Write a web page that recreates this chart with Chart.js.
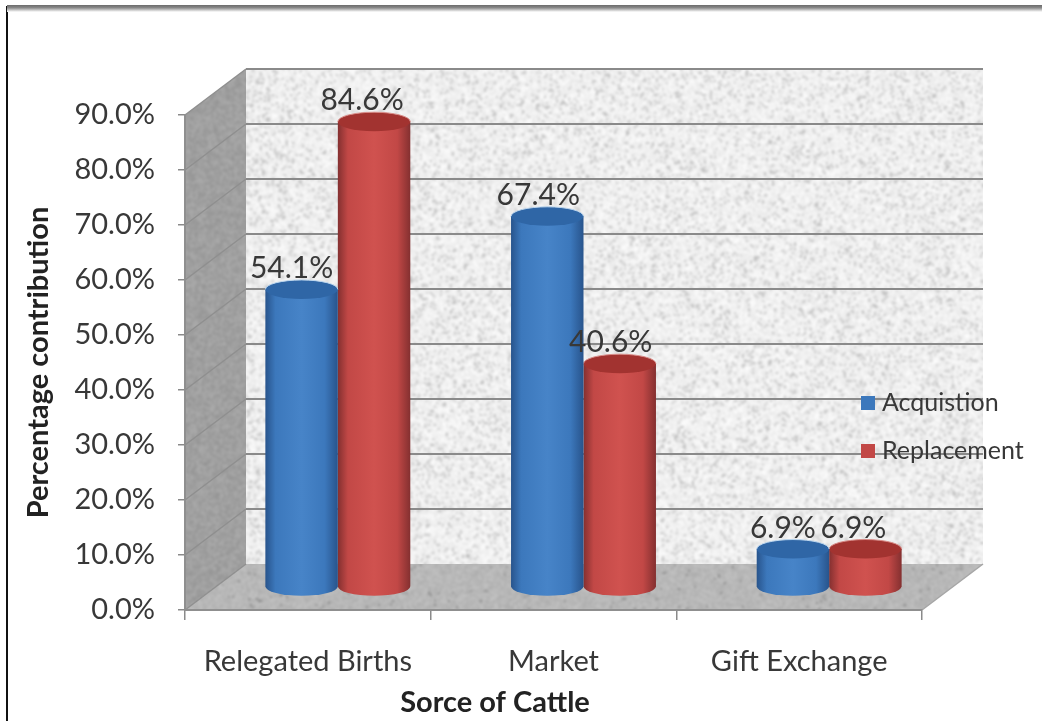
<!DOCTYPE html>
<html><head><meta charset="utf-8">
<style>html,body{margin:0;padding:0;background:#fff;overflow:hidden}canvas{display:block}</style>
<script src="https://cdn.jsdelivr.net/npm/chart.js@4"></script>
</head><body><canvas id="c" width="1042" height="721"></canvas>
<script>
const categories = ["Relegated Births", "Market", "Gift Exchange"];
const acquistion = [54.1, 67.4, 6.9];
const replacement = [84.6, 40.6, 6.9];
const seriesNames = ["Acquistion", "Replacement"];
const yTicks = [0, 10, 20, 30, 40, 50, 60, 70, 80, 90];
const xTitle = "Sorce of Cattle";
const yTitle = "Percentage contribution";

const FONT = "Lato";
const TEXT = "#383838";
const DX = 61, DY = -46;          // depth of the 3D box
const BAR_DX = 30, BAR_DY = -23;  // bars stand mid-way on the floor
const RY = 9.5;
const LABEL_NUDGE = [[-10, -9, -10],[-12, -9, -12]];

function noisePattern(base, spread, speck, seed) {
  const W = 540, H = 380;
  const c = document.createElement('canvas'); c.width = W; c.height = H;
  const g = c.getContext('2d'); const im = g.createImageData(W, H);
  let s = seed;
  const next = () => (s = (s * 1664525 + 1013904223) >>> 0) / 4294967296;
  for (let i = 0; i < im.data.length; i += 4) {
    const r = next(); let v = base + (next() - .5) * spread;
    if (r < speck) v -= 46;
    im.data[i] = im.data[i+1] = im.data[i+2] = v; im.data[i+3] = 255;
  }
  g.putImageData(im, 0, 0);
  const d = document.createElement('canvas'); d.width = W*2; d.height = H*2;
  const h = d.getContext('2d'); h.imageSmoothingEnabled = true; h.filter = 'blur(1px)';
  h.drawImage(c, 0, 0, W*2, H*2);
  return d;
}
function poly(ctx, pts, fill) {
  ctx.beginPath(); pts.forEach((p, i) => i ? ctx.lineTo(p[0], p[1]) : ctx.moveTo(p[0], p[1]));
  ctx.closePath(); ctx.fillStyle = fill; ctx.fill();
}
const palette = [
  {edge:'#28548c', mid:'#3c78bc', light:'#4784c8', top:'#2f66a6', rim:'#bcd6ee'},
  {edge:'#843030', mid:'#c24846', light:'#d0524f', top:'#a23330', rim:'#d88c88'}
];
function cylinder(ctx, x, w, top, base, p) {
  const l = x - w/2, r = x + w/2, rx = w/2;
  const g = ctx.createLinearGradient(l, 0, r, 0);
  g.addColorStop(0, p.edge); g.addColorStop(.14, p.mid); g.addColorStop(.5, p.light);
  g.addColorStop(.82, p.mid); g.addColorStop(1, p.edge);
  ctx.save();
  ctx.filter = 'blur(0.7px)';
  ctx.beginPath(); ctx.moveTo(l, top);
  ctx.lineTo(l, base); ctx.ellipse(x, base, rx, RY, 0, Math.PI, 0, true);
  ctx.lineTo(r, top); ctx.closePath(); ctx.fillStyle = g; ctx.fill();
  ctx.beginPath(); ctx.ellipse(x, top, rx, RY, 0, 0, Math.PI*2);
  ctx.fillStyle = p.top; ctx.fill();
  ctx.beginPath(); ctx.ellipse(x, top, rx, RY, 0, Math.PI, 0);
  ctx.strokeStyle = p.rim; ctx.lineWidth = 1; ctx.stroke();
  ctx.restore();
}
const box3d = {
  id: 'box3d',
  beforeDraw(chart) {
    const {ctx, scales:{x, y}} = chart;
    const L = x.left, R = x.right, B = y.bottom, T = y.top;
    ctx.save();
    // picture frame
    ctx.fillStyle = '#111'; ctx.fillRect(6, 6, 2, 715);
    const tg = ctx.createLinearGradient(0, 5, 0, 12);
    tg.addColorStop(0, '#6a6a6a'); tg.addColorStop(.4, '#8a8a8a'); tg.addColorStop(1, '#ffffff');
    ctx.fillStyle = tg; ctx.fillRect(7, 5, 1035, 7);
    const wall = ctx.createPattern(noisePattern(242, 24, .13, 7), 'repeat');
    const side = ctx.createPattern(noisePattern(160, 26, 0, 11), 'repeat');
    const floor = ctx.createPattern(noisePattern(184, 22, .02, 23), 'repeat');
    poly(ctx, [[L+DX,T+DY],[R+DX,T+DY],[R+DX,B+DY],[L+DX,B+DY]], wall);
    poly(ctx, [[L,T],[L+DX,T+DY],[L+DX,B+DY],[L,B]], side);
    poly(ctx, [[L,B],[L+DX,B+DY],[R+DX,B+DY],[R,B]], floor);
    // gridlines on the side and back walls
    yTicks.forEach(v => {
      const py = y.getPixelForValue(v);
      ctx.strokeStyle = '#8f8f8f'; ctx.lineWidth = 1.5;
      ctx.beginPath(); ctx.moveTo(L, py); ctx.lineTo(L+DX, py+DY); ctx.stroke();
      if (v > 0) {
        ctx.strokeStyle = '#8a8a8a'; ctx.lineWidth = 2;
        ctx.beginPath(); ctx.moveTo(L+DX, py+DY); ctx.lineTo(R+DX, py+DY); ctx.stroke();
      }
    });
    ctx.strokeStyle = '#a6a6a6'; ctx.lineWidth = 1.5;
    ctx.beginPath(); ctx.moveTo(R, B); ctx.lineTo(R+DX, B+DY); ctx.stroke();
    ctx.restore();
  },
  beforeDatasetDraw(chart, args) {
    const {ctx} = chart;
    const w = chart.getDatasetMeta(args.index);
    w.data.forEach(el => {
      const p = el.getProps(['x','y','base','width'], true);
      cylinder(ctx, p.x + BAR_DX, p.width, p.y + BAR_DY, p.base + BAR_DY, palette[args.index]);
    });
    return false;
  },
  afterDatasetsDraw(chart) {
    const {ctx} = chart;
    ctx.save();
    ctx.font = `30px ${FONT}`; ctx.fillStyle = TEXT;
    ctx.textAlign = 'center'; ctx.textBaseline = 'middle';
    chart.data.datasets.forEach((ds, i) => {
      chart.getDatasetMeta(i).data.forEach((el, j) => {
        const p = el.getProps(['x','y'], true);
        ctx.fillText(ds.data[j].toFixed(1) + '%', p.x + BAR_DX + LABEL_NUDGE[i][j], p.y + BAR_DY - 21);
      });
    });
    // legend
    ctx.font = `25px ${FONT}`; ctx.textAlign = 'left';
    chart.data.datasets.forEach((ds, i) => {
      const cy = 403 + i * 48;
      ctx.fillStyle = ds.backgroundColor; ctx.fillRect(861, cy - 7, 14, 14);
      ctx.fillStyle = TEXT; ctx.fillText(ds.label, 882, cy);
    });
    // x axis title sits left of the plot centre in the original
    ctx.font = `bold 29px ${FONT}`; ctx.fillStyle = '#222'; ctx.textAlign = 'center';
    ctx.fillText(xTitle, 495, 703);
    ctx.restore();
  }
};

new Chart(document.getElementById('c'), {
  type: 'bar',
  data: {
    labels: categories,
    datasets: [
      {label: seriesNames[0], data: acquistion, backgroundColor: '#3c78bc'},
      {label: seriesNames[1], data: replacement, backgroundColor: '#c24846'}
    ]
  },
  options: {
    responsive: false, animation: false,
    layout: {padding: {top: 115, right: 120, left: 0, bottom: 0}},
    categoryPercentage: 0.59, barPercentage: 1,
    plugins: {legend: {display: false}, tooltip: {enabled: false}},
    scales: {
      x: {
        afterFit(s) { s.height = 111; },
        grid: {drawOnChartArea: false, color: '#8a8a8a', tickLength: 10, lineWidth: 1.5},
        border: {color: '#8f8f8f', width: 2},
        ticks: {font: {family: FONT, size: 29}, color: TEXT, padding: 24, maxRotation: 0}
      },
      y: {
        min: 0, max: 90,
        afterFit(s) { s.width = 185; },
        afterBuildTicks(s) { s.ticks = yTicks.map(v => ({value: v})); },
        grid: {drawOnChartArea: false, color: '#8a8a8a', tickLength: 7, lineWidth: 1.5},
        border: {color: '#8f8f8f', width: 2},
        ticks: {font: {family: FONT, size: 29}, color: TEXT, padding: 23, callback: v => v.toFixed(1) + '%'},
        title: {display: true, text: yTitle, font: {family: FONT, size: 29, weight: 'bold'}, color: '#222', padding: {top: 21, bottom: 0}}
      }
    }
  },
  plugins: [box3d]
});
</script></body></html>
